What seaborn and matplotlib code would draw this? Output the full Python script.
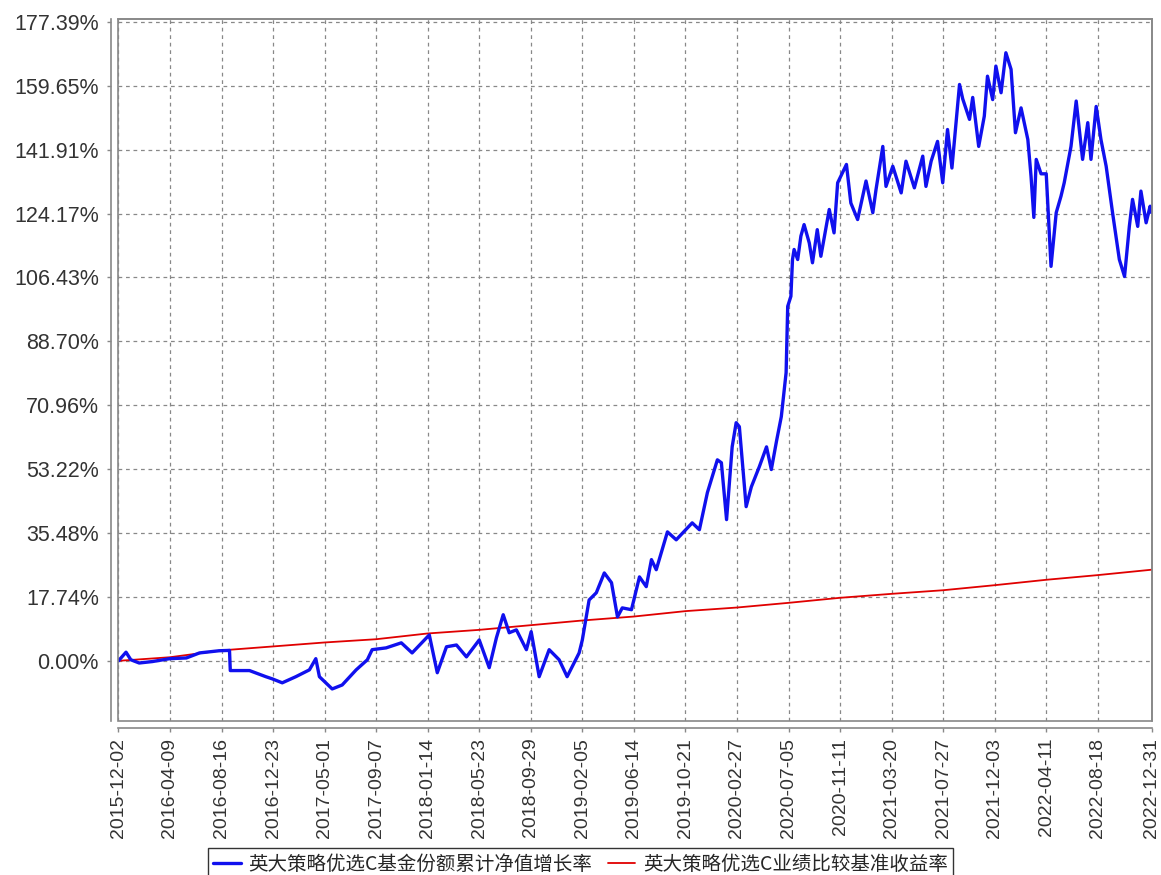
import pandas as pd
import seaborn as sns
import matplotlib
matplotlib.use("Agg")
import matplotlib.pyplot as plt
from matplotlib.patches import Rectangle

# ---- data ----
fund_dates = [
    "2015-12-02", "2015-12-21", "2016-01-02", "2016-01-23", "2016-02-25", "2016-04-08",
    "2016-05-20", "2016-06-22", "2016-08-10", "2016-09-05", "2016-09-07", "2016-10-25",
    "2016-12-05", "2016-12-21", "2017-01-15", "2017-02-18", "2017-03-24", "2017-04-09",
    "2017-04-18", "2017-05-20", "2017-06-14", "2017-07-19", "2017-08-16", "2017-08-28",
    "2017-10-02", "2017-11-09", "2017-12-06", "2018-01-18", "2018-02-07", "2018-03-02",
    "2018-03-27", "2018-04-21", "2018-05-23", "2018-06-17", "2018-07-05", "2018-07-22",
    "2018-08-06", "2018-08-24", "2018-09-18", "2018-09-30", "2018-10-20", "2018-11-14",
    "2018-12-09", "2018-12-29", "2019-01-28", "2019-02-05", "2019-02-22", "2019-03-12",
    "2019-04-01", "2019-04-19", "2019-05-04", "2019-05-16", "2019-06-08", "2019-06-28",
    "2019-07-15", "2019-07-28", "2019-08-09", "2019-09-06", "2019-09-28", "2019-11-07",
    "2019-11-25", "2019-12-15", "2020-01-09", "2020-01-19", "2020-02-01", "2020-02-15",
    "2020-02-25", "2020-03-04", "2020-03-21", "2020-04-03", "2020-04-23", "2020-05-11",
    "2020-05-23", "2020-06-05", "2020-06-17", "2020-06-29", "2020-07-03", "2020-07-11",
    "2020-07-15", "2020-07-19", "2020-07-28", "2020-08-05", "2020-08-13", "2020-08-26",
    "2020-09-03", "2020-09-15", "2020-09-24", "2020-10-15", "2020-10-27", "2020-11-05",
    "2020-11-27", "2020-12-08", "2020-12-25", "2021-01-15", "2021-02-01", "2021-02-09",
    "2021-02-26", "2021-03-06", "2021-03-23", "2021-04-13", "2021-04-25", "2021-05-16",
    "2021-06-06", "2021-06-14", "2021-06-27", "2021-07-13", "2021-07-26", "2021-08-07",
    "2021-08-18", "2021-09-06", "2021-09-14", "2021-10-01", "2021-10-09", "2021-10-24",
    "2021-11-07", "2021-11-15", "2021-11-28", "2021-12-06", "2021-12-19", "2021-12-31",
    "2022-01-13", "2022-01-24", "2022-02-07", "2022-02-24", "2022-03-04", "2022-03-11",
    "2022-03-17", "2022-03-29", "2022-04-11", "2022-04-23", "2022-05-06", "2022-05-18",
    "2022-05-26", "2022-06-12", "2022-06-25", "2022-07-11", "2022-07-24", "2022-08-01",
    "2022-08-14", "2022-08-26", "2022-09-08", "2022-09-24", "2022-10-11", "2022-10-24",
    "2022-11-05", "2022-11-13", "2022-11-26", "2022-12-04", "2022-12-17", "2022-12-27",
    "2022-12-30",
]
fund_values = [
    0.0, 2.4, 0.3, -0.6, -0.2, 0.6,
    0.8, 2.2, 2.8, 2.9, -2.7, -2.7,
    -4.4, -5.0, -6.1, -4.4, -2.5, 0.6,
    -4.4, -7.8, -6.7, -2.5, 0.3, 3.1,
    3.6, 5.0, 2.2, 7.2, -3.3, 3.9,
    4.4, 1.1, 5.8, -1.9, 6.4, 12.8,
    7.8, 8.6, 3.1, 8.1, -4.4, 3.1,
    0.3, -4.4, 2.2, 5.8, 16.9, 18.9,
    24.4, 21.7, 12.2, 14.7, 14.2, 23.3,
    20.6, 28.1, 25.3, 35.8, 33.6, 38.3,
    36.4, 46.7, 55.8, 55.0, 39.2, 59.4,
    66.1, 65.0, 42.8, 48.3, 53.9, 59.4,
    53.1, 61.0, 67.8, 80.0, 98.4, 101.2,
    111.4, 114.2, 111.4, 117.9, 121.1, 116.0,
    110.5, 119.7, 112.3, 125.3, 118.8, 132.7,
    137.8, 127.1, 122.5, 133.2, 124.4, 130.8,
    142.8, 131.7, 137.3, 129.9, 138.7, 131.3,
    140.1, 131.7, 138.7, 144.2, 132.7, 147.5,
    136.8, 160.0, 156.0, 150.3, 156.4, 142.8,
    151.2, 162.3, 155.8, 165.1, 157.7, 168.8,
    164.2, 146.6, 153.5, 144.7, 134.5, 123.1,
    139.2, 135.2, 135.2, 109.5, 124.4, 129.0,
    132.7, 142.8, 155.4, 139.2, 149.4, 139.2,
    153.9, 144.7, 137.3, 124.4, 111.4, 106.7,
    120.6, 128.1, 120.6, 130.4, 121.6, 126.2,
    124.5,
]

tick_labels = [
    "2015-12-02", "2016-04-09", "2016-08-16", "2016-12-23", "2017-05-01", "2017-09-07",
    "2018-01-14", "2018-05-23", "2018-09-29", "2019-02-05", "2019-06-14", "2019-10-21",
    "2020-02-27", "2020-07-05", "2020-11-11", "2021-03-20", "2021-07-27", "2021-12-03",
    "2022-04-11", "2022-08-18", "2022-12-31",
]
bench_values = [
    0.0, 1.0, 2.9, 4.0, 5.1, 6.0, 7.6, 8.6, 9.9, 11.2, 12.3,
    13.8, 14.8, 16.1, 17.5, 18.6, 19.6, 21.0, 22.5, 23.8, 25.3,
]
y_ticks = [0.00, 17.74, 35.48, 53.22, 70.96, 88.70, 106.43, 124.17, 141.91, 159.65, 177.39]

fund_label = "英大策略优选C基金份额累计净值增长率"
bench_label = "英大策略优选C业绩比较基准收益率"

fund = pd.DataFrame({"date": pd.to_datetime(fund_dates), "value": fund_values})
bench = pd.DataFrame({"date": pd.to_datetime(tick_labels), "value": bench_values})

# ---- style ----
sns.set_theme(style="white")
plt.rcParams["font.family"] = ["Liberation Sans", "Noto Sans CJK SC", "DejaVu Sans"]

fig = plt.figure(figsize=(11.61, 8.75), dpi=100)
ax = fig.add_axes([0.102, 0.176, 0.8900, 0.8024])

sns.lineplot(data=bench, x="date", y="value", ax=ax, color="#e00000", lw=1.3,
             label=bench_label, estimator=None, zorder=3)
sns.lineplot(data=fund, x="date", y="value", ax=ax, color="#1010ee", lw=2.4,
             label=fund_label, estimator=None, zorder=4)

ax.set_xlim(pd.Timestamp("2015-12-02"), pd.Timestamp("2022-12-31"))
ax.set_ylim(-16.7, 178.2)
ax.set_xticks(pd.to_datetime(tick_labels))
ax.set_xticklabels(tick_labels)
ax.set_yticks(y_ticks)
ax.set_yticklabels([f"{v:.2f}%" for v in y_ticks])
ax.set_xlabel("")
ax.set_ylabel("")

ax.grid(True, color="#888888", linestyle=(0, (3, 3)), lw=0.9)

# offset axis lines plus a grey frame around the plot area
for side in ["left", "bottom"]:
    ax.spines[side].set_position(("outward", 5))
    ax.spines[side].set_color("#888888")
    ax.spines[side].set_linewidth(1.2)
for side in ["top", "right"]:
    ax.spines[side].set_color("#888888")
    ax.spines[side].set_linewidth(1.2)
ax.add_patch(Rectangle((0, 0), 1, 1, transform=ax.transAxes, fill=False,
                       edgecolor="#888888", lw=1.2, clip_on=False, zorder=5))
ax.tick_params(axis="both", direction="out", length=3, width=1, color="#888888",
               left=True, bottom=True, labelcolor="#333333")
ax.tick_params(axis="y", pad=6, labelsize=15.5)
ax.tick_params(axis="x", pad=4, labelrotation=90, labelsize=14)

# legend at the bottom, order: fund first
handles, labels = ax.get_legend_handles_labels()
ax.get_legend().remove()
order = [labels.index(fund_label), labels.index(bench_label)]
leg = fig.legend([handles[i] for i in order], [labels[i] for i in order],
                 loc="upper center", bbox_to_anchor=(0.5, 0.031), ncol=2,
                 frameon=True, fancybox=False, edgecolor="black",
                 handlelength=1.4, columnspacing=0.8, handletextpad=0.4,
                 borderpad=0.3, borderaxespad=0,
                 prop={"family": ["Noto Sans CJK SC"], "size": 14})
leg.get_frame().set_linewidth(1.0)

fig.savefig("out.png", dpi=100)
